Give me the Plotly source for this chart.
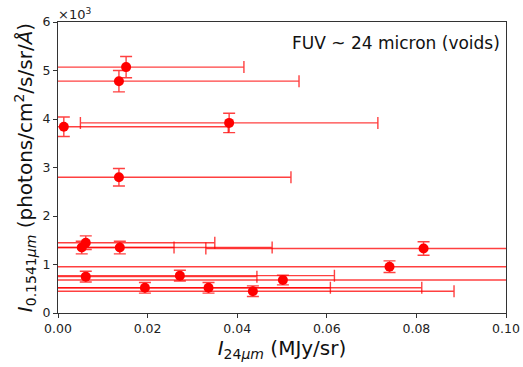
import plotly.graph_objects as go

# I_24um (MJy/sr) and its error
x_24 = [0.0152, 0.0136, 0.0013, 0.0382, 0.0136,
        0.0062, 0.0053, 0.0138, 0.0816, 0.0740,
        0.0062, 0.0272, 0.0502, 0.0194, 0.0336, 0.0435]
x_err = [0.0263, 0.0402, 0.0367, 0.0332, 0.0384,
         0.0288, 0.0206, 0.0340, 0.0486, 0.0850,
         0.0382, 0.0345, 0.0600, 0.0414, 0.0476, 0.0449]
# I_0.1541um (photons/cm2/s/sr/A) and its error
y_fuv = [5070, 4780, 3840, 3920, 2800,
         1450, 1350, 1350, 1330, 955,
         750, 770, 680, 520, 520, 450]
y_err = [220, 220, 200, 200, 180,
         140, 130, 130, 140, 120,
         110, 110, 100, 110, 110, 110]

x_ticks = [0.00, 0.02, 0.04, 0.06, 0.08, 0.10]
y_ticks = [0, 1, 2, 3, 4, 5, 6]
scale = 1000.0

fig = go.Figure()
fig.add_trace(go.Scatter(
    x=x_24,
    y=[v / scale for v in y_fuv],
    mode="markers",
    marker=dict(color="red", size=10, line=dict(width=0)),
    error_x=dict(type="data", array=x_err, color="rgba(255,0,0,0.75)", thickness=1.4, width=6),
    error_y=dict(type="data", array=[v / scale for v in y_err], color="rgba(255,0,0,0.75)", thickness=1.4, width=6),
    showlegend=False,
))

font = "DejaVu Sans, sans-serif"
axis_common = dict(
    showgrid=False, zeroline=False, showline=True, linecolor="#333", linewidth=1,
    mirror=True, ticks="outside", ticklen=4, tickcolor="#333", tickwidth=1,
    tickfont=dict(family=font, size=12.5, color="#222"), automargin=False,
)
fig.update_xaxes(range=[0, 0.10], tickvals=x_ticks, ticktext=[f"{t:.2f}" for t in x_ticks],
                 title=dict(text="<i>I</i><sub>24<i>μm</i></sub> (MJy/sr)", font=dict(family=font, size=20, color="#111"), standoff=4),
                 **axis_common)
fig.update_yaxes(range=[0, 6], tickvals=y_ticks, ticktext=[str(t) for t in y_ticks],
                 title=dict(text="<i>I</i><sub>0.1541<i>μm</i></sub> (photons/cm<sup>2</sup>/s/sr/<i>Å</i>)", font=dict(family=font, size=20, color="#111"), standoff=4),
                 **axis_common)

fig.add_annotation(xref="paper", yref="paper", x=-0.005, y=1.0, xanchor="left", yanchor="bottom",
                   text="×10<sup>3</sup>", showarrow=False, font=dict(family=font, size=13, color="#222"), yshift=-2)
fig.add_annotation(xref="paper", yref="paper", x=0.99, y=0.97, xanchor="right", yanchor="top",
                   text="FUV ~ 24 micron (voids)", showarrow=False, font=dict(family=font, size=17, color="#111"))

fig.update_layout(
    width=523, height=367,
    margin=dict(l=58, r=17, t=22, b=54),
    plot_bgcolor="white", paper_bgcolor="white",
    font=dict(family=font),
)
fig.write_html("out.html", config={"displayModeBar": False},
               post_script="document.body.style.margin='0';")
